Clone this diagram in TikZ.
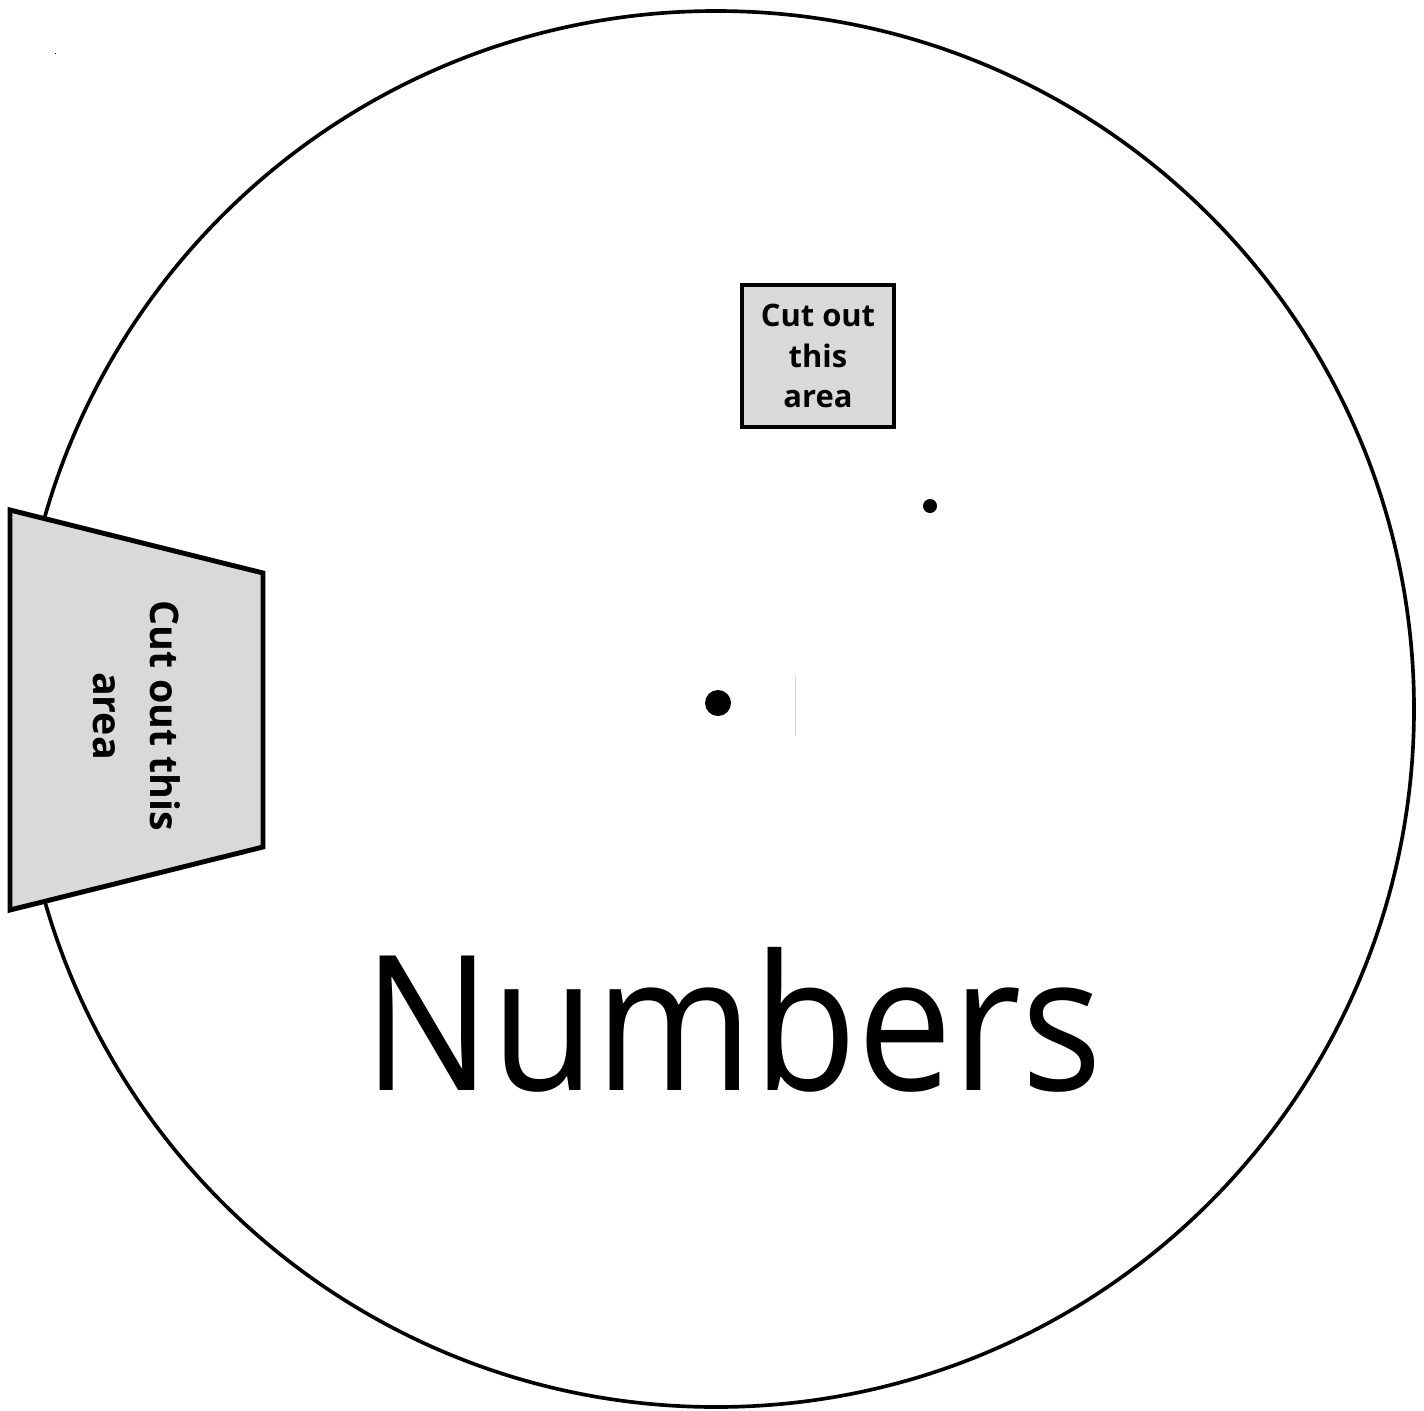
\documentclass[tikz,border=0pt]{standalone}
\usepackage{fontspec}
\setmainfont{Open Sans}
\usetikzlibrary{positioning}
\definecolor{cutgray}{gray}{0.85}
\tikzset{
  cutline/.style={draw=black, line width=3.5pt, fill=cutgray},
  cutlabel/.style={align=center, font=\bfseries\fontsize{22}{28.5}\selectfont}
}

\begin{document}
\begin{tikzpicture}[x=0.25mm, y=-0.25mm]
            \useasboundingbox (0,0) rectangle (1424,1410);
            \draw[line width=2.6pt] (716,709) circle (698);
            % window in the top part
            \node[cutline, cutlabel, minimum width=38mm, minimum height=35.5mm, inner sep=0pt] (window) at (818,356) {Cut out\\this\\area};
            % flap on the left rim
            \draw[cutline] (10,510) -- (263,573) -- (263,847) -- (10,910) -- cycle;
            \node[cutlabel, font=\bfseries\fontsize{28}{40.5}\selectfont, rotate=-90] (flap) at (137,716) {Cut out this\\area};
            \fill (930,506) circle (7);
            \fill (718,703) circle (13);
            \draw[gray!35, line width=0.7pt] (795,676) -- (795,736);
            \fill (55,53) rectangle (56,54);
            \node[anchor=base, xscale=0.9, font=\fontsize{134}{140}\selectfont] (title) at (733,1090) {Numbers};
        \end{tikzpicture}
\end{document}
